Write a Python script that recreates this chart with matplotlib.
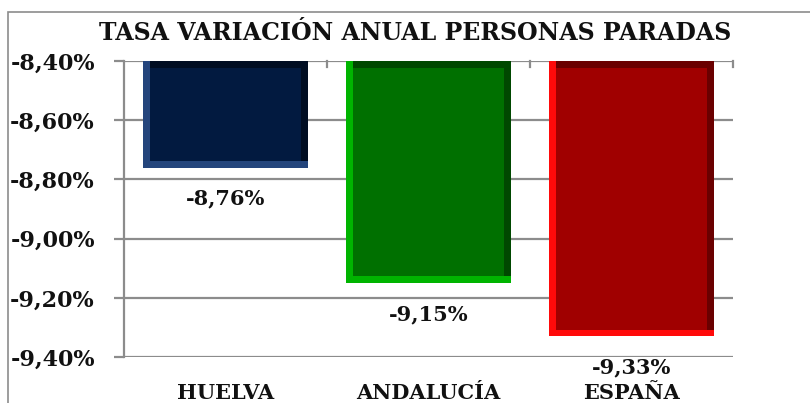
import matplotlib
matplotlib.use("Agg")
import matplotlib.pyplot as plt
from matplotlib.patches import Rectangle

title = "TASA VARIACIÓN ANUAL PERSONAS PARADAS"
categories = ["HUELVA", "ANDALUCÍA", "ESPAÑA"]
values = [-8.76, -9.15, -9.33]
value_labels = ["-8,76%", "-9,15%", "-9,33%"]
yticks = [-8.40, -8.60, -8.80, -9.00, -9.20, -9.40]
ytick_labels = ["-8,40%", "-8,60%", "-8,80%", "-9,00%", "-9,20%", "-9,40%"]
baseline = -8.40

face_colors = ["#021a40", "#007000", "#a00000"]
light_colors = ["#24457c", "#00b400", "#ff0a0a"]
dark_colors = ["#000d22", "#004800", "#6a0000"]

FONT = ["DejaVu Serif"]

fig = plt.figure(figsize=(8.1, 4.03), dpi=100)
ax = fig.add_axes([124/810, 1-357/403, (733-124)/810, (357-61)/403])

x = list(range(len(categories)))
bw = 0.81
ex = 0.035   # bevel width (x units)
ey = 0.022   # bevel height (y units)
# outer (light) bar
ax.bar(x, [v - baseline for v in values], bottom=baseline, width=bw,
       color=light_colors, edgecolor="none", zorder=2)
# dark right/top bevel
ax.bar([i + ex / 2 for i in x], [v - baseline + ey for v in values], bottom=baseline,
       width=bw - ex, color=dark_colors, edgecolor="none", zorder=3)
# inner face
ax.bar(x, [v - baseline + 2 * ey for v in values], bottom=baseline - ey,
       width=bw - 2 * ex, color=face_colors, edgecolor="none", zorder=4)

for i, (v, lab) in enumerate(zip(values, value_labels)):
    ax.annotate(lab, (i, v), xytext=(0, -31), textcoords="offset pixels",
                ha="center", va="center", fontsize=15, fontweight="bold",
                family=FONT, color="#111111", annotation_clip=False, zorder=6)

ax.set_xlim(-0.5, len(categories) - 0.5)
ax.set_ylim(-9.40, -8.40)
ax.set_yticks(yticks)
ax.set_yticklabels(ytick_labels, fontsize=16, fontweight="bold", family=FONT,
                   color="#111111")
ax.yaxis.grid(True, color="#8c8c8c", linewidth=1.6, zorder=0)
ax.set_axisbelow(True)
ax.tick_params(axis="y", length=7, width=1.6, color="#8c8c8c", pad=14)

ax.set_xticks([])
for s in ["right", "bottom", "top"]:
    ax.spines[s].set_visible(False)
ax.spines["left"].set_color("#8c8c8c")
ax.spines["left"].set_linewidth(1.6)

# category boundary ticks at the top axis
for b in [0.5, 1.5, 2.5]:
    ax.plot([b, b], [baseline, baseline - 0.02], color="#8c8c8c", lw=1.6,
            clip_on=False, zorder=1)

for i, c in enumerate(categories):
    ax.text(i, -9.40 - 0.122, c, ha="center", va="center", fontsize=15,
            fontweight="bold", family=FONT, color="#111111", clip_on=False)

fig.text(415/810, 1-33/403, title, ha="center", va="center", fontsize=17,
         fontweight="bold", family=FONT, color="#111111")

# outer chart border
fig.add_artist(Rectangle((8/810, -0.1), 1.0, 1 - 12/403 + 0.1, transform=fig.transFigure,
                         fill=False, edgecolor="#8c8c8c", linewidth=1.2))

fig.savefig("out.png", dpi=100, facecolor="white")
